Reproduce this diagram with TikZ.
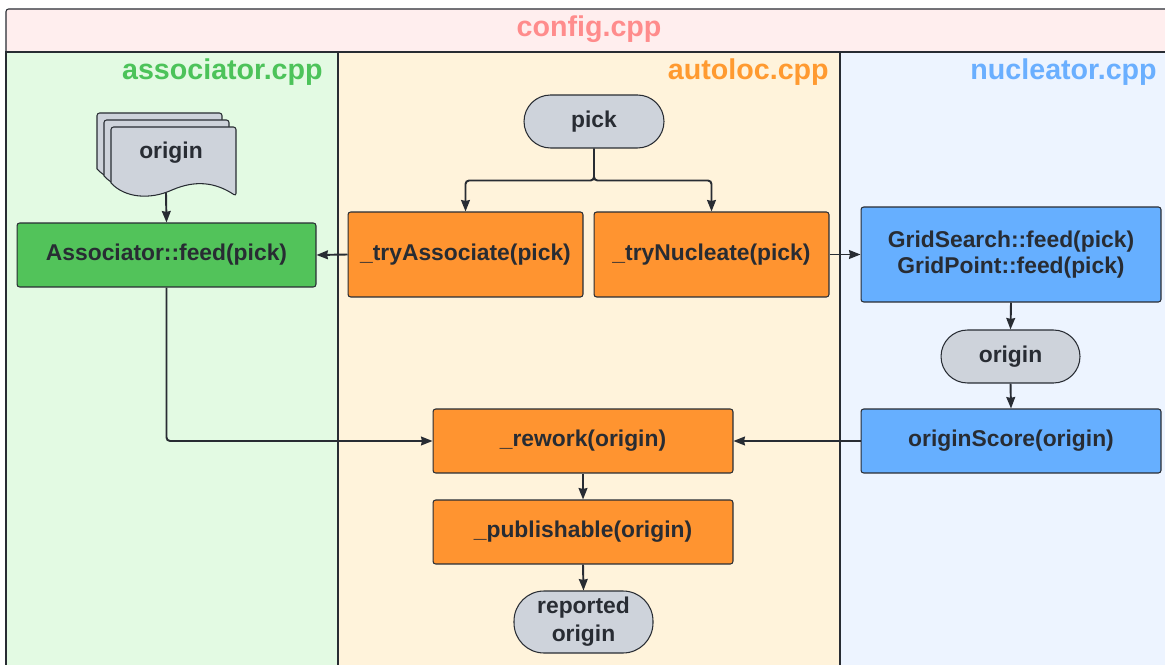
\documentclass[tikz,border=0pt]{standalone}
\usepackage{fontspec}
\setmainfont{Liberation Sans}
\usetikzlibrary{arrows.meta,calc}
\definecolor{ink}{HTML}{282C33}
\definecolor{cfgbg}{HTML}{FFEEEE}
\definecolor{cfgfg}{HTML}{FF8C8C}
\definecolor{asbg}{HTML}{E3FAE3}
\definecolor{asfg}{HTML}{4CC35A}
\definecolor{asbox}{HTML}{52C35A}
\definecolor{albg}{HTML}{FFF3DB}
\definecolor{alfg}{HTML}{FF9A30}
\definecolor{albox}{HTML}{FF9430}
\definecolor{nubg}{HTML}{EDF4FF}
\definecolor{nufg}{HTML}{6AAFFF}
\definecolor{nubox}{HTML}{66AFFF}
\definecolor{term}{HTML}{CED3DB}

\begin{document}
\begin{tikzpicture}[x=0.02cm,y=-0.02cm,
  lane/.style={draw=ink,line width=0.6pt},
  lanetitle/.style={anchor=east,inner sep=0pt,font=\bfseries\fontsize{16.3}{18}\selectfont},
  box/.style={draw=ink,line width=0.6pt,rounded corners=1.5pt,text=ink,align=center,inner sep=0pt,
    font=\bfseries\fontsize{13}{15}\selectfont},
  wide/.style={box,minimum width=6cm,minimum height=1.28cm},
  terminal/.style={box,fill=term,minimum width=2.8cm,minimum height=1.06cm,rounded corners=0.53cm},
  flow/.style={draw=ink,line width=1.1pt,rounded corners=2pt,-{Stealth[length=6.5pt,width=5pt,inset=0.5pt]}}]
  \useasboundingbox (0,0) rectangle (1165,665);
  \fill[white] (0,0) rectangle (1165,665);
  \draw[lane,fill=cfgbg,rounded corners=1.5pt] (6,52) -- (6,9) -- (1175,9) -- (1175,52);
  \draw[lane,fill=asbg] (6,52) rectangle (338,675);
  \draw[lane,fill=albg] (338,52) rectangle (840,675);
  \draw[lane,fill=nubg] (840,52) rectangle (1175,675);
  \node[font=\bfseries\fontsize{16.3}{18}\selectfont,text=cfgfg] (cfg) at (589,29) {config.cpp};
  \node[lanetitle,text=asfg] (ascpp) at (323,72) {associator.cpp};
  \node[lanetitle,text=alfg] (alcpp) at (829,72) {autoloc.cpp};
  \node[lanetitle,text=nufg] (nucpp) at (1157,72) {nucleator.cpp};
  \foreach \d in {14,7,0}
    \draw[draw=ink,line width=0.6pt,fill=term,rounded corners=1.5pt,shift={(-\d,-\d)}]
      (111,183) -- (111,127) -- (236,127) -- (236,196)
      [sharp corners] .. controls (215,182) and (195,180) .. (172,190)
      .. controls (150,200) and (125,198) .. (111,183) -- cycle;
  \node[box,draw=none] (doc) at (171,153) {origin};
  \coordinate (docbot) at (166,193);
  \node[terminal] (pick) at (594,121.5) {pick};
  \node[box,fill=asbox,minimum width=5.98cm,minimum height=1.28cm] (assoc) at (166.5,255) {Associator::feed(pick)};
  \node[box,fill=albox,minimum width=4.7cm,minimum height=1.7cm] (tryA) at (465.5,254.5) {\_tryAssociate(pick)};
  \node[box,fill=albox,minimum width=4.7cm,minimum height=1.7cm] (tryN) at (711.5,254.5) {\_tryNucleate(pick)};
  \node[box,fill=nubox,minimum width=6cm,minimum height=1.9cm] (grid) at (1011,254.5) {GridSearch::feed(pick)\\GridPoint::feed(pick)};
  \node[terminal,minimum width=2.78cm] (orig) at (1010.5,356.5) {origin};
  \node[wide,fill=nubox] (score) at (1011,441) {originScore(origin)};
  \node[wide,fill=albox] (rework) at (583,441) {\_rework(origin)};
  \node[wide,fill=albox] (publ) at (583,532) {\_publishable(origin)};
  \node[terminal,minimum width=2.78cm,minimum height=1.24cm,rounded corners=0.6cm,
    font=\bfseries\fontsize{13}{16}\selectfont] (rep) at (583.5,622) {reported\\origin};
  \draw[flow] (pick.south) -- ++(0,32) -| (tryA.north);
  \draw[flow] (pick.south) -- ++(0,32) -| (tryN.north);
  \draw[flow] (tryA.west) -- (assoc.east);
  \draw[flow] (tryN.east) -- (grid.west);
  \draw[flow] (docbot) -- (assoc.north);
  \draw[flow] (assoc.south) |- (rework.west);
  \draw[flow] (grid.south) -- (orig.north);
  \draw[flow] (orig.south) -- (score.north);
  \draw[flow] (score.west) -- (rework.east);
  \draw[flow] (rework.south) -- (publ.north);
  \draw[flow] (publ.south) -- (rep.north);
\end{tikzpicture}
\end{document}
